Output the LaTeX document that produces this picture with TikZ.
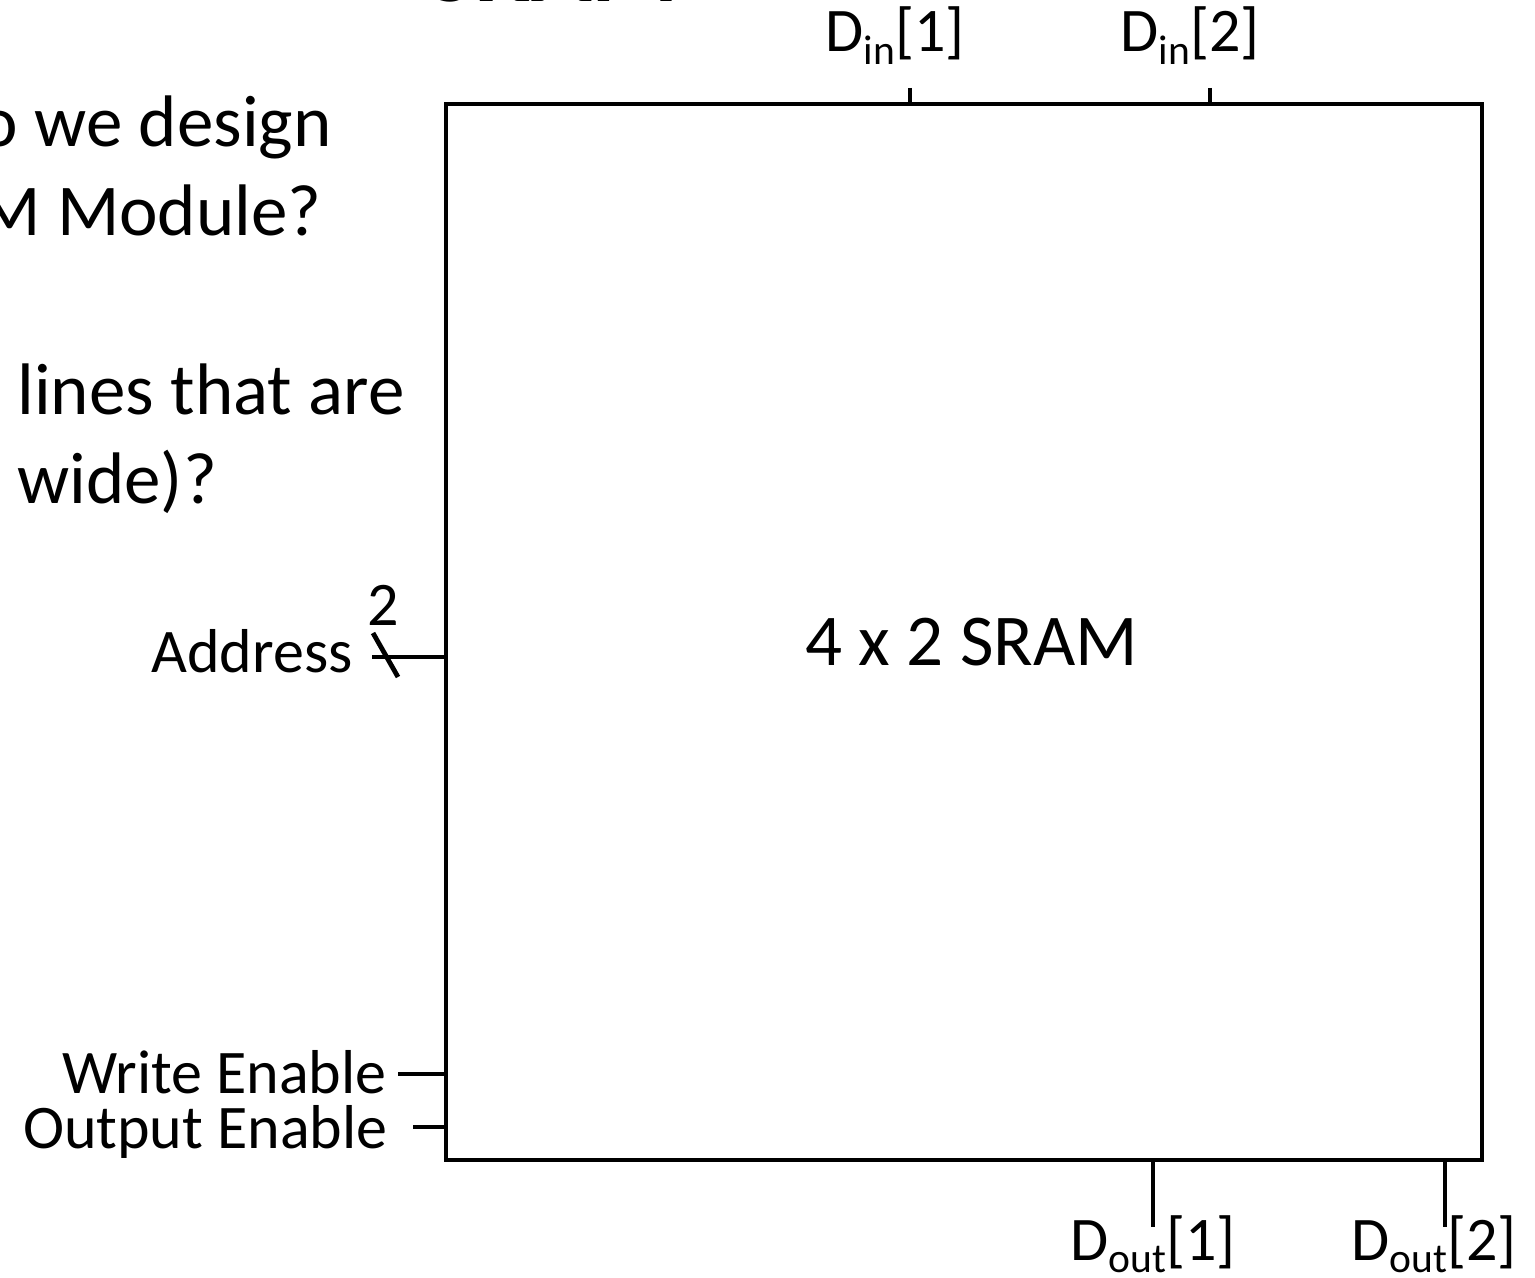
\documentclass[tikz,border=0pt]{standalone}
\usepackage{fontspec}
\setmainfont{Carlito}
\usetikzlibrary{positioning}
\newcommand{\lowsub}[1]{\raisebox{-0.2em}{\scalebox{0.67}{#1}}}

\begin{document}
\begin{tikzpicture}[x=0.5pt, y=-0.5pt,
  wire/.style={line width=2.4pt},
  lbl/.style={inner sep=0pt, font=\fontsize{31}{37}\selectfont},
  body/.style={inner sep=0pt, font=\fontsize{36.5}{44}\selectfont}]
\useasboundingbox (0,0) rectangle (1535,1278);
% slide text cut by the frame
\node[inner sep=0pt, font=\fontsize{50}{60}\selectfont\bfseries, anchor=base west] (title) at (427,2) {SRAM};
\node[body, anchor=base east] (q_1) at (332,147) {o we design};
\node[body, anchor=base east] (q_2) at (322,236) {M Module?};
\node[body, anchor=base west] (q_3) at (17,415) {lines that are};
\node[body, anchor=base west] (q_4) at (17,503) {wide)?};
% the memory block
\node[draw, wire, minimum width=518pt, minimum height=528pt, inner sep=0pt] (sram) at (964,632) {};
\node[body, anchor=base] (sram_lbl) at (971.5,665) {4 x 2 SRAM};
% data in
\coordinate (din_1) at (910,88);
\draw[wire] (din_1) -- (din_1 |- sram.north);
\node[lbl, anchor=base] (din_1_lbl) at (895,52) {D\lowsub{in}[1]};
\coordinate (din_2) at (1210,88);
\draw[wire] (din_2) -- (din_2 |- sram.north);
\node[lbl, anchor=base] (din_2_lbl) at (1190,52) {D\lowsub{in}[2]};
% data out
\coordinate (dout_1) at (1153,1227);
\draw[wire] (dout_1 |- sram.south) -- (dout_1);
\node[lbl, anchor=base] (dout_1_lbl) at (1153,1260) {D\lowsub{out}[1]};
\coordinate (dout_2) at (1445,1227);
\draw[wire] (dout_2 |- sram.south) -- (dout_2);
\node[lbl, anchor=base] (dout_2_lbl) at (1434,1260) {D\lowsub{out}[2]};
% address bus
\coordinate (addr) at (372,657);
\draw[wire] (addr) -- (addr -| sram.west);
\coordinate (bus_a) at (373,633);
\coordinate (bus_b) at (398,677);
\draw[wire] (bus_a) -- (bus_b);
\node[lbl, anchor=base] (bus_w) at (383,625) {2};
\node[lbl, anchor=base east] (addr_lbl) at (353,672) {Address};
% enables
\coordinate (we) at (398,1074);
\draw[wire] (we) -- (we -| sram.west);
\node[lbl, anchor=base east] (we_lbl) at (387,1093) {Write Enable};
\coordinate (oe) at (413,1127);
\draw[wire] (oe) -- (oe -| sram.west);
\node[lbl, anchor=base east] (oe_lbl) at (388,1148) {Output Enable};
\end{tikzpicture}
\end{document}
